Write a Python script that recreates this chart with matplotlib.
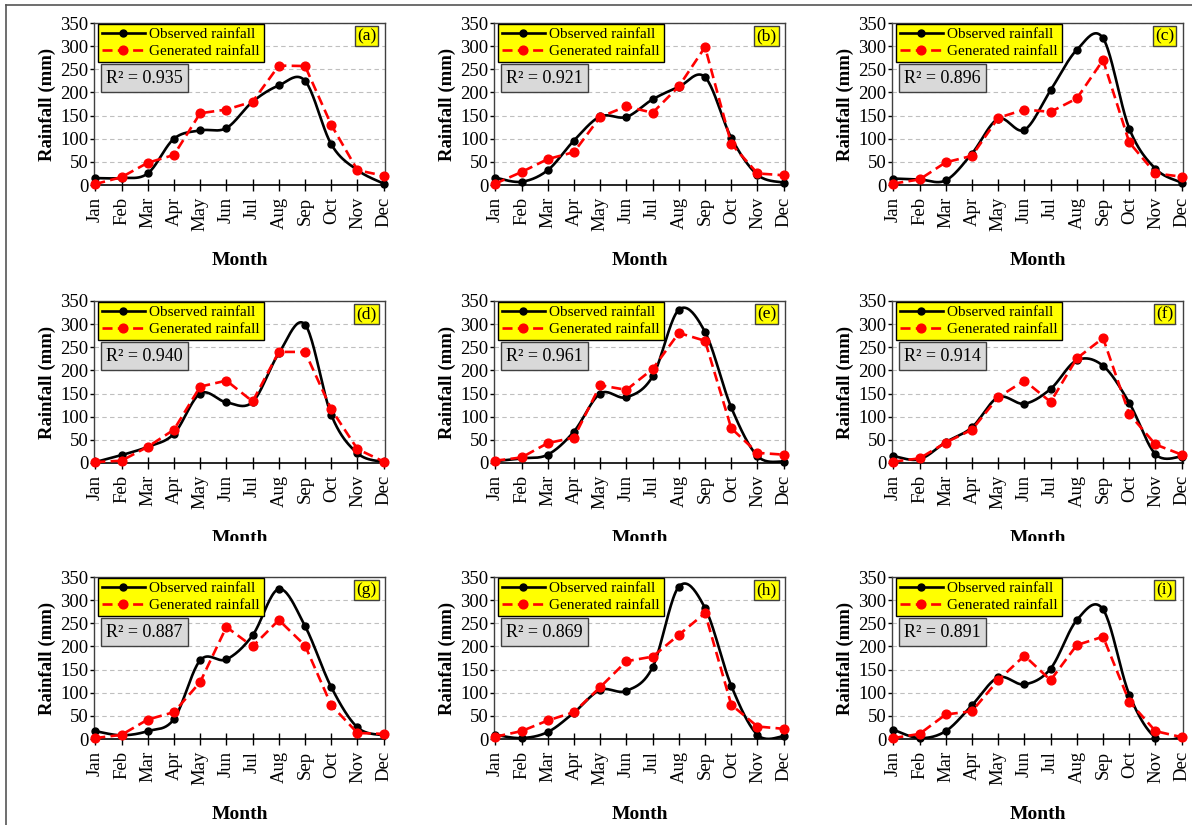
import numpy as np
import matplotlib
matplotlib.use('Agg')
import matplotlib.pyplot as plt
from matplotlib.lines import Line2D
from matplotlib.patches import Rectangle

plt.rcParams['font.family'] = ['Liberation Serif', 'DejaVu Serif']

months = ['Jan', 'Feb', 'Mar', 'Apr', 'May', 'Jun',
          'Jul', 'Aug', 'Sep', 'Oct', 'Nov', 'Dec']

# monthly rainfall (mm) per station: observed / generated
obs_a = [15, 15, 25, 100, 118, 123, 180, 215, 225, 88, 32, 3]
gen_a = [2, 17, 48, 65, 155, 163, 180, 258, 257, 130, 32, 20]
obs_b = [16, 7, 32, 96, 148, 147, 185, 212, 233, 102, 22, 5]
gen_b = [3, 28, 56, 71, 147, 170, 156, 213, 298, 89, 25, 21]
obs_c = [14, 12, 10, 68, 143, 119, 205, 292, 317, 122, 35, 5]
gen_c = [3, 12, 49, 63, 145, 163, 158, 187, 270, 92, 25, 18]
obs_d = [2, 17, 35, 63, 150, 131, 132, 237, 299, 104, 21, 2]
gen_d = [2, 5, 35, 72, 165, 178, 133, 240, 240, 116, 30, 3]
obs_e = [4, 10, 18, 68, 150, 142, 187, 331, 283, 120, 15, 3]
gen_e = [5, 12, 43, 55, 168, 158, 203, 281, 264, 75, 22, 18]
obs_f = [15, 8, 45, 77, 142, 128, 160, 222, 210, 130, 19, 14]
gen_f = [3, 10, 44, 72, 142, 178, 132, 226, 270, 106, 40, 18]
obs_g = [17, 8, 17, 43, 170, 172, 224, 324, 244, 112, 25, 8]
gen_g = [2, 9, 42, 58, 123, 242, 200, 257, 202, 73, 13, 11]
obs_h = [9, 2, 15, 57, 106, 104, 155, 329, 283, 115, 9, 6]
gen_h = [5, 17, 40, 58, 112, 168, 178, 225, 272, 74, 27, 22]
obs_i = [20, 2, 17, 73, 133, 118, 152, 257, 280, 96, 3, 4]
gen_i = [2, 11, 53, 60, 127, 180, 127, 203, 221, 81, 17, 4]

r2_values = ['0.935', '0.921', '0.896', '0.940', '0.961',
             '0.914', '0.887', '0.869', '0.891']
panel_tags = ['(a)', '(b)', '(c)', '(d)', '(e)', '(f)', '(g)', '(h)', '(i)']

observed = [obs_a, obs_b, obs_c, obs_d, obs_e, obs_f, obs_g, obs_h, obs_i]
generated = [gen_a, gen_b, gen_c, gen_d, gen_e, gen_f, gen_g, gen_h, gen_i]


def smooth(y, n=24):
    # spreadsheet-style smoothed line: cubic Bezier through each point
    pts = np.column_stack([np.arange(len(y), dtype=float), np.asarray(y, float)])
    pad = np.vstack([pts[0], pts, pts[-1]])
    t = np.linspace(0, 1, n)[:, None]
    segs = []
    for i in range(len(pts) - 1):
        p0, p1, p2, p3 = pad[i], pad[i + 1], pad[i + 2], pad[i + 3]
        c1 = p1 + (p2 - p0) / 6.0
        c2 = p2 - (p3 - p1) / 6.0
        seg = ((1 - t) ** 3) * p1 + 3 * ((1 - t) ** 2) * t * c1 \
            + 3 * (1 - t) * t ** 2 * c2 + t ** 3 * p2
        segs.append(seg if i == 0 else seg[1:])
    return np.vstack(segs)


W, H = 1192, 825
fig = plt.figure(figsize=(W / 100, H / 100), dpi=100)

col_left = [94, 494, 892]
row_top = [23, 301, 577]
aw, ah = 291, 162

x = np.arange(12)
for k in range(9):
    r, c = divmod(k, 3)
    ax = fig.add_axes([col_left[c] / W, 1 - (row_top[r] + ah) / H, aw / W, ah / H])

    curve = smooth(observed[k])
    ax.plot(curve[:, 0], curve[:, 1], color='black', lw=1.9, zorder=3)
    ax.plot(x, observed[k], 'o', color='black', ms=5, zorder=4, clip_on=False)
    ax.plot(x, generated[k], color='#ff0000', lw=1.9, ls=(0, (3.8, 2)),
            marker='o', ms=6.3, zorder=5, clip_on=False)

    ax.set_xlim(-0.05, 11.05)
    ax.set_ylim(0, 350)
    ax.set_yticks(range(0, 351, 50))
    ax.set_xticks(x)
    ax.set_xticklabels(months, rotation=90)
    ax.yaxis.grid(True, color='#bfbfbf', ls=(0, (4, 3)), lw=0.8)
    ax.set_axisbelow(True)

    for s in ['top', 'right', 'left']:
        ax.spines[s].set_color('#404040')
        ax.spines[s].set_linewidth(1.0)
    ax.spines['bottom'].set_color('black')
    ax.spines['bottom'].set_linewidth(1.2)

    ax.tick_params(axis='x', direction='inout', length=9, width=1,
                   labelsize=13.5, pad=4)
    ax.tick_params(axis='y', direction='out', length=3, width=1,
                   labelsize=13.5, pad=1)
    ax.set_ylabel('Rainfall (mm)', fontweight='bold', fontsize=13.5, labelpad=3)
    ax.set_xlabel('Month', fontweight='bold', fontsize=14, labelpad=15)

    handles = [Line2D([], [], color='black', lw=1.9, marker='o', ms=5),
               Line2D([], [], color='#ff0000', lw=1.9, ls=(0, (3.8, 2)),
                      marker='o', ms=6.3)]
    leg = ax.legend(handles, ['Observed rainfall', 'Generated rainfall'],
                    loc='upper left', bbox_to_anchor=(0.014, 0.994),
                    borderaxespad=0, fontsize=11, handlelength=2.8,
                    handletextpad=0.3, labelspacing=0.2, borderpad=0.25,
                    fancybox=False, framealpha=1, numpoints=1)
    leg.get_frame().set_facecolor('#ffff00')
    leg.get_frame().set_edgecolor('black')
    leg.get_frame().set_linewidth(1.0)
    leg.set_zorder(6)

    ax.text(0.041, 0.66, 'R² = ' + r2_values[k], transform=ax.transAxes,
            ha='left', va='center', fontsize=13, zorder=6,
            bbox=dict(boxstyle='square,pad=0.3', fc='#d9d9d9', ec='#404040', lw=1))
    ax.text(0.936, 0.92, panel_tags[k], transform=ax.transAxes,
            ha='center', va='center', fontsize=12.5, zorder=6,
            bbox=dict(boxstyle='square,pad=0.12', fc='#ffff00', ec='#404040', lw=1))

# outer frame lines
fig.add_artist(Line2D([6 / W, 6 / W], [0, 1 - 5 / H], transform=fig.transFigure,
                      color='#555555', lw=1.2))
fig.add_artist(Line2D([6 / W, 1], [1 - 5 / H, 1 - 5 / H], transform=fig.transFigure,
                      color='#555555', lw=1.2))

# middle-row axis titles are cut off at the bottom
fig.add_artist(Rectangle((10 / W, 1 - 560 / H), 1, 19 / H, transform=fig.transFigure,
                         fc='white', ec='none', zorder=10))

fig.savefig('out.png', dpi=100)
